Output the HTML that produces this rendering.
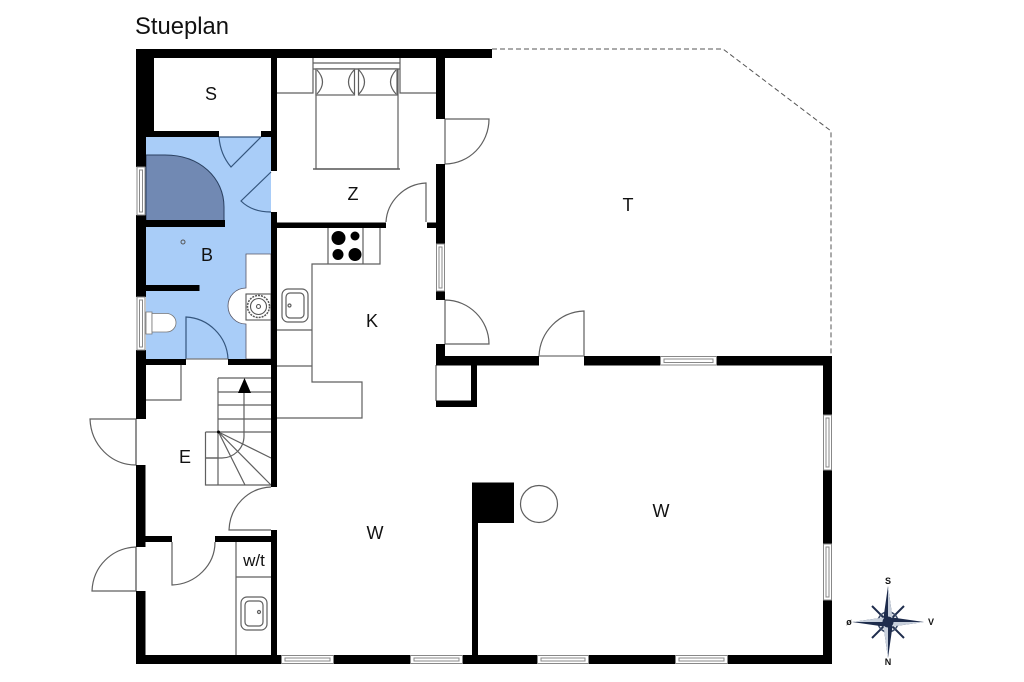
<!DOCTYPE html>
<html><head><meta charset="utf-8"><style>
html,body{margin:0;padding:0;background:#fff}
svg{display:block}
text{font-family:"Liberation Sans",sans-serif;fill:#111;text-anchor:middle}
</style></head><body>
<svg width="1024" height="682" viewBox="0 0 1024 682" xmlns="http://www.w3.org/2000/svg">
<rect width="1024" height="682" fill="#fff"/>
<!-- bath -->
<rect x="146" y="137" width="125" height="222" fill="#a9cdf8"/>
<path d="M246 254H271V359H246V324A18 18 0 0 1 246 288Z" fill="#fff" stroke="#556" stroke-width="0.8"/>
<path d="M146 155H165C200 155 224 178 224 207V221H146Z" fill="#7189b3" stroke="#2a4060" stroke-width="1"/>
<g fill="none" stroke="#34557d" stroke-width="1.200">
<path d="M219 137C220 150 225 160 231 167L261 137"/>
<path d="M219 137H261"/>
<path d="M271 172L241 201C248 208 258 212 271 212"/>
<path d="M186 359V317C208 318 227 336 228 359"/>
<path d="M186 359H228" stroke="#777"/>
</g>
<!-- toilet -->
<path d="M146 312H152V334H146Z" fill="#fff" stroke="#777" stroke-width="0.8"/>
<path d="M152 313.500H166.500A9.500 9.250 0 0 1 166.500 332H152Z" fill="#fff" stroke="#777" stroke-width="0.8"/>
<!-- bath sink -->
<g fill="none" stroke="#555" stroke-width="1.100">
<rect x="246" y="294" width="25" height="26"/>
<circle cx="258.500" cy="306.500" r="11" stroke-dasharray="2 1" stroke-width="1.500"/>
<circle cx="258.500" cy="306.500" r="8"/>
<circle cx="258.500" cy="306.500" r="2"/>
</g>
<circle cx="183" cy="242" r="2" fill="none" stroke="#555"/>
<!-- thin lines -->
<g fill="none" stroke="#5f5f5f" stroke-width="1.200">
<!-- bed -->
<path d="M277 93H313V58M436 93H400V58"/>
<path d="M313 63H400M313 69H400"/>
<rect x="316" y="69" width="82" height="100"/>
<path d="M313 169H400" stroke-width="1.600"/>
<rect x="316" y="69" width="38.500" height="26" fill="#fff"/>
<rect x="358.500" y="69" width="38.500" height="26" fill="#fff"/>
<path d="M317 70Q328 82 317 94M354 70Q343 82 354 94M359 70Q370 82 359 94M396 70Q385 82 396 94"/>
<!-- doors -->
<path d="M426 222V183C404 184 387 202 386 222"/>
<path d="M445 119H489C489 144 469 164 445 164M445 119V164"/>
<path d="M445 300C469 300 489 320 489 344H445V300"/>
<path d="M584 356V311C559 312 540 332 539 356H584"/>
<path d="M136 419H90C91 445 111 465 136 465V419"/>
<path d="M136 591H92C93 566 112 548 136 547V591"/>
<path d="M172 542V585C196 584 215 565 215 542"/>
<path d="M271 487C248 488 230 506 229 530H271"/>
<!-- kitchen -->
<path d="M380 228V264H312V382H362V418H277"/>
<path d="M328 228V264M363 228V264"/>
<path d="M277 330H312M277 366H312"/>
<rect x="282" y="289" width="26" height="33" rx="6"/>
<rect x="286" y="293" width="18" height="25" rx="4"/>
<circle cx="289.500" cy="305.500" r="1.500"/>
<!-- E closet -->
<path d="M146 400H181V365"/>
<!-- stairs -->
<path d="M218 378H271M218 392H271M218 405H271M218 419H271M205.500 432H271M218 378V485M205.500 432V485H271M205.500 458H218"/>
<path d="M218.500 432L271 458M218.500 432L271 485M218.500 432L245 485"/>
<path d="M244 390V436C244 449 233 458 222 458H205.500"/>
<!-- wt -->
<path d="M236 542V655M236 577H271"/>
<rect x="241" y="597" width="26" height="33" rx="6"/>
<rect x="245" y="601" width="18" height="25" rx="4"/>
<circle cx="259" cy="612" r="1.500"/>
<!-- thresholds -->
<path d="M436 365V401"/>
<path d="M136 419V465M136 547V591"/>
<path d="M539 356H584" stroke="#888"/>
<circle cx="539" cy="504" r="18.500"/>
</g>
<path d="M238 393L244.500 378L251 393Z" fill="#000"/>
<circle cx="218.500" cy="432" r="1.500" fill="#000"/>
<!-- dashed terrace -->
<path d="M492 49H723L831 131V356" fill="none" stroke="#555" stroke-width="1" stroke-dasharray="5 3"/>
<!-- walls -->
<g fill="#000">
<rect x="136" y="49" width="356" height="9"/>
<path d="M136 49H154V131H219V137H146V167H136Z"/>
<rect x="261" y="131" width="16" height="6"/>
<rect x="271" y="58" width="6" height="113"/>
<rect x="136" y="215" width="10" height="82"/>
<rect x="146" y="220" width="79" height="7"/>
<rect x="146" y="285" width="53.500" height="6"/>
<rect x="136" y="350" width="10" height="69"/>
<rect x="146" y="359" width="40" height="6"/>
<rect x="228" y="359" width="49" height="6"/>
<rect x="271" y="212" width="6" height="275"/>
<rect x="271" y="530" width="6" height="134"/>
<rect x="277" y="222.500" width="109" height="5.500"/>
<rect x="427" y="222.500" width="17" height="5.500"/>
<rect x="436" y="58" width="9" height="61"/>
<rect x="436" y="164" width="9" height="64"/>
<rect x="436" y="228" width="9" height="16"/>
<rect x="436" y="291" width="9" height="9"/>
<rect x="436" y="344" width="9" height="21"/>
<rect x="436" y="356" width="103" height="9.500"/>
<rect x="584" y="356" width="76" height="9.500"/>
<rect x="717" y="356" width="115" height="9.500"/>
<rect x="471" y="365" width="6" height="42"/>
<rect x="436" y="400.500" width="41" height="6.500"/>
<rect x="823" y="356" width="9" height="59"/>
<rect x="823" y="470" width="9" height="74"/>
<rect x="823" y="600" width="9" height="64"/>
<rect x="136" y="465" width="9.500" height="82"/>
<rect x="136" y="591" width="9.500" height="73"/>
<rect x="145" y="536" width="27" height="6"/>
<rect x="215" y="536" width="62" height="6"/>
<rect x="136" y="655" width="145" height="9"/>
<rect x="334" y="655" width="76" height="9"/>
<rect x="463" y="655" width="74" height="9"/>
<rect x="589" y="655" width="86" height="9"/>
<rect x="728" y="655" width="104" height="9"/>
<rect x="472" y="482.500" width="42" height="40.500"/>
<rect x="472" y="523" width="6" height="132"/>
</g>
<!-- windows -->
<g fill="#fff" stroke="#888" stroke-width="1">
<rect x="137" y="167" width="8" height="48"/><rect x="139.500" y="170" width="3" height="42"/>
<rect x="137" y="297" width="8" height="53"/><rect x="139.500" y="300" width="3" height="47"/>
<rect x="436.500" y="244" width="8" height="47"/><rect x="439" y="247" width="3" height="41"/>
<rect x="660.500" y="356.500" width="56" height="8.500"/><rect x="664" y="359" width="49" height="3.500"/>
<rect x="823.500" y="415" width="8" height="55"/><rect x="826" y="418" width="3" height="49"/>
<rect x="823.500" y="544" width="8" height="56"/><rect x="826" y="547" width="3" height="50"/>
<rect x="281.500" y="655.500" width="52" height="8"/><rect x="285" y="658" width="45" height="3"/>
<rect x="410.500" y="655.500" width="52" height="8"/><rect x="414" y="658" width="45" height="3"/>
<rect x="537.500" y="655.500" width="51" height="8"/><rect x="541" y="658" width="44" height="3"/>
<rect x="675.500" y="655.500" width="52" height="8"/><rect x="679" y="658" width="45" height="3"/>
</g>
<!-- burners -->
<g fill="#000">
<circle cx="338.500" cy="238" r="7"/>
<circle cx="355" cy="236" r="4.500"/>
<circle cx="338" cy="254.500" r="5.500"/>
<circle cx="355" cy="254.500" r="6.500"/>
</g>
<!-- labels -->
<text x="135" y="34" font-size="23.800" style="text-anchor:start">Stueplan</text>
<g font-size="18">
<text x="211" y="100">S</text>
<text x="353" y="200">Z</text>
<text x="628" y="211">T</text>
<text x="207" y="261">B</text>
<text x="372" y="327">K</text>
<text x="185" y="463">E</text>
<text x="375" y="539">W</text>
<text x="661" y="517">W</text>
<text x="254" y="566" font-size="17">w/t</text>
</g>
<!-- compass -->
<g transform="translate(888 622)">
<g stroke="#1e2c4c" stroke-width="2" fill="none">
<path d="M-16 -16L16 16M16 -16L-16 16"/>
<circle r="10" stroke="#3a4a68" stroke-width="1.500"/>
</g>
<path d="M0 -36L4.500 -4.500L36 0L4.500 4.500L0 36L-4.500 4.500L-36 0L-4.500 -4.500Z" fill="#1e2c4c"/>
<path d="M0 -36L4.500 -4.500L0 0ZM36 0L4.500 4.500L0 0ZM0 36L-4.500 4.500L0 0ZM-36 0L-4.500 -4.500L0 0Z" fill="#c8d0dc"/>
<circle r="5.500" fill="#1e2c4c"/>
</g>
<g font-size="9" font-weight="bold">
<text x="888" y="584">S</text>
<text x="888" y="665">N</text>
<text x="849" y="625">ø</text>
<text x="931" y="625">V</text>
</g>
</svg>
</body></html>
